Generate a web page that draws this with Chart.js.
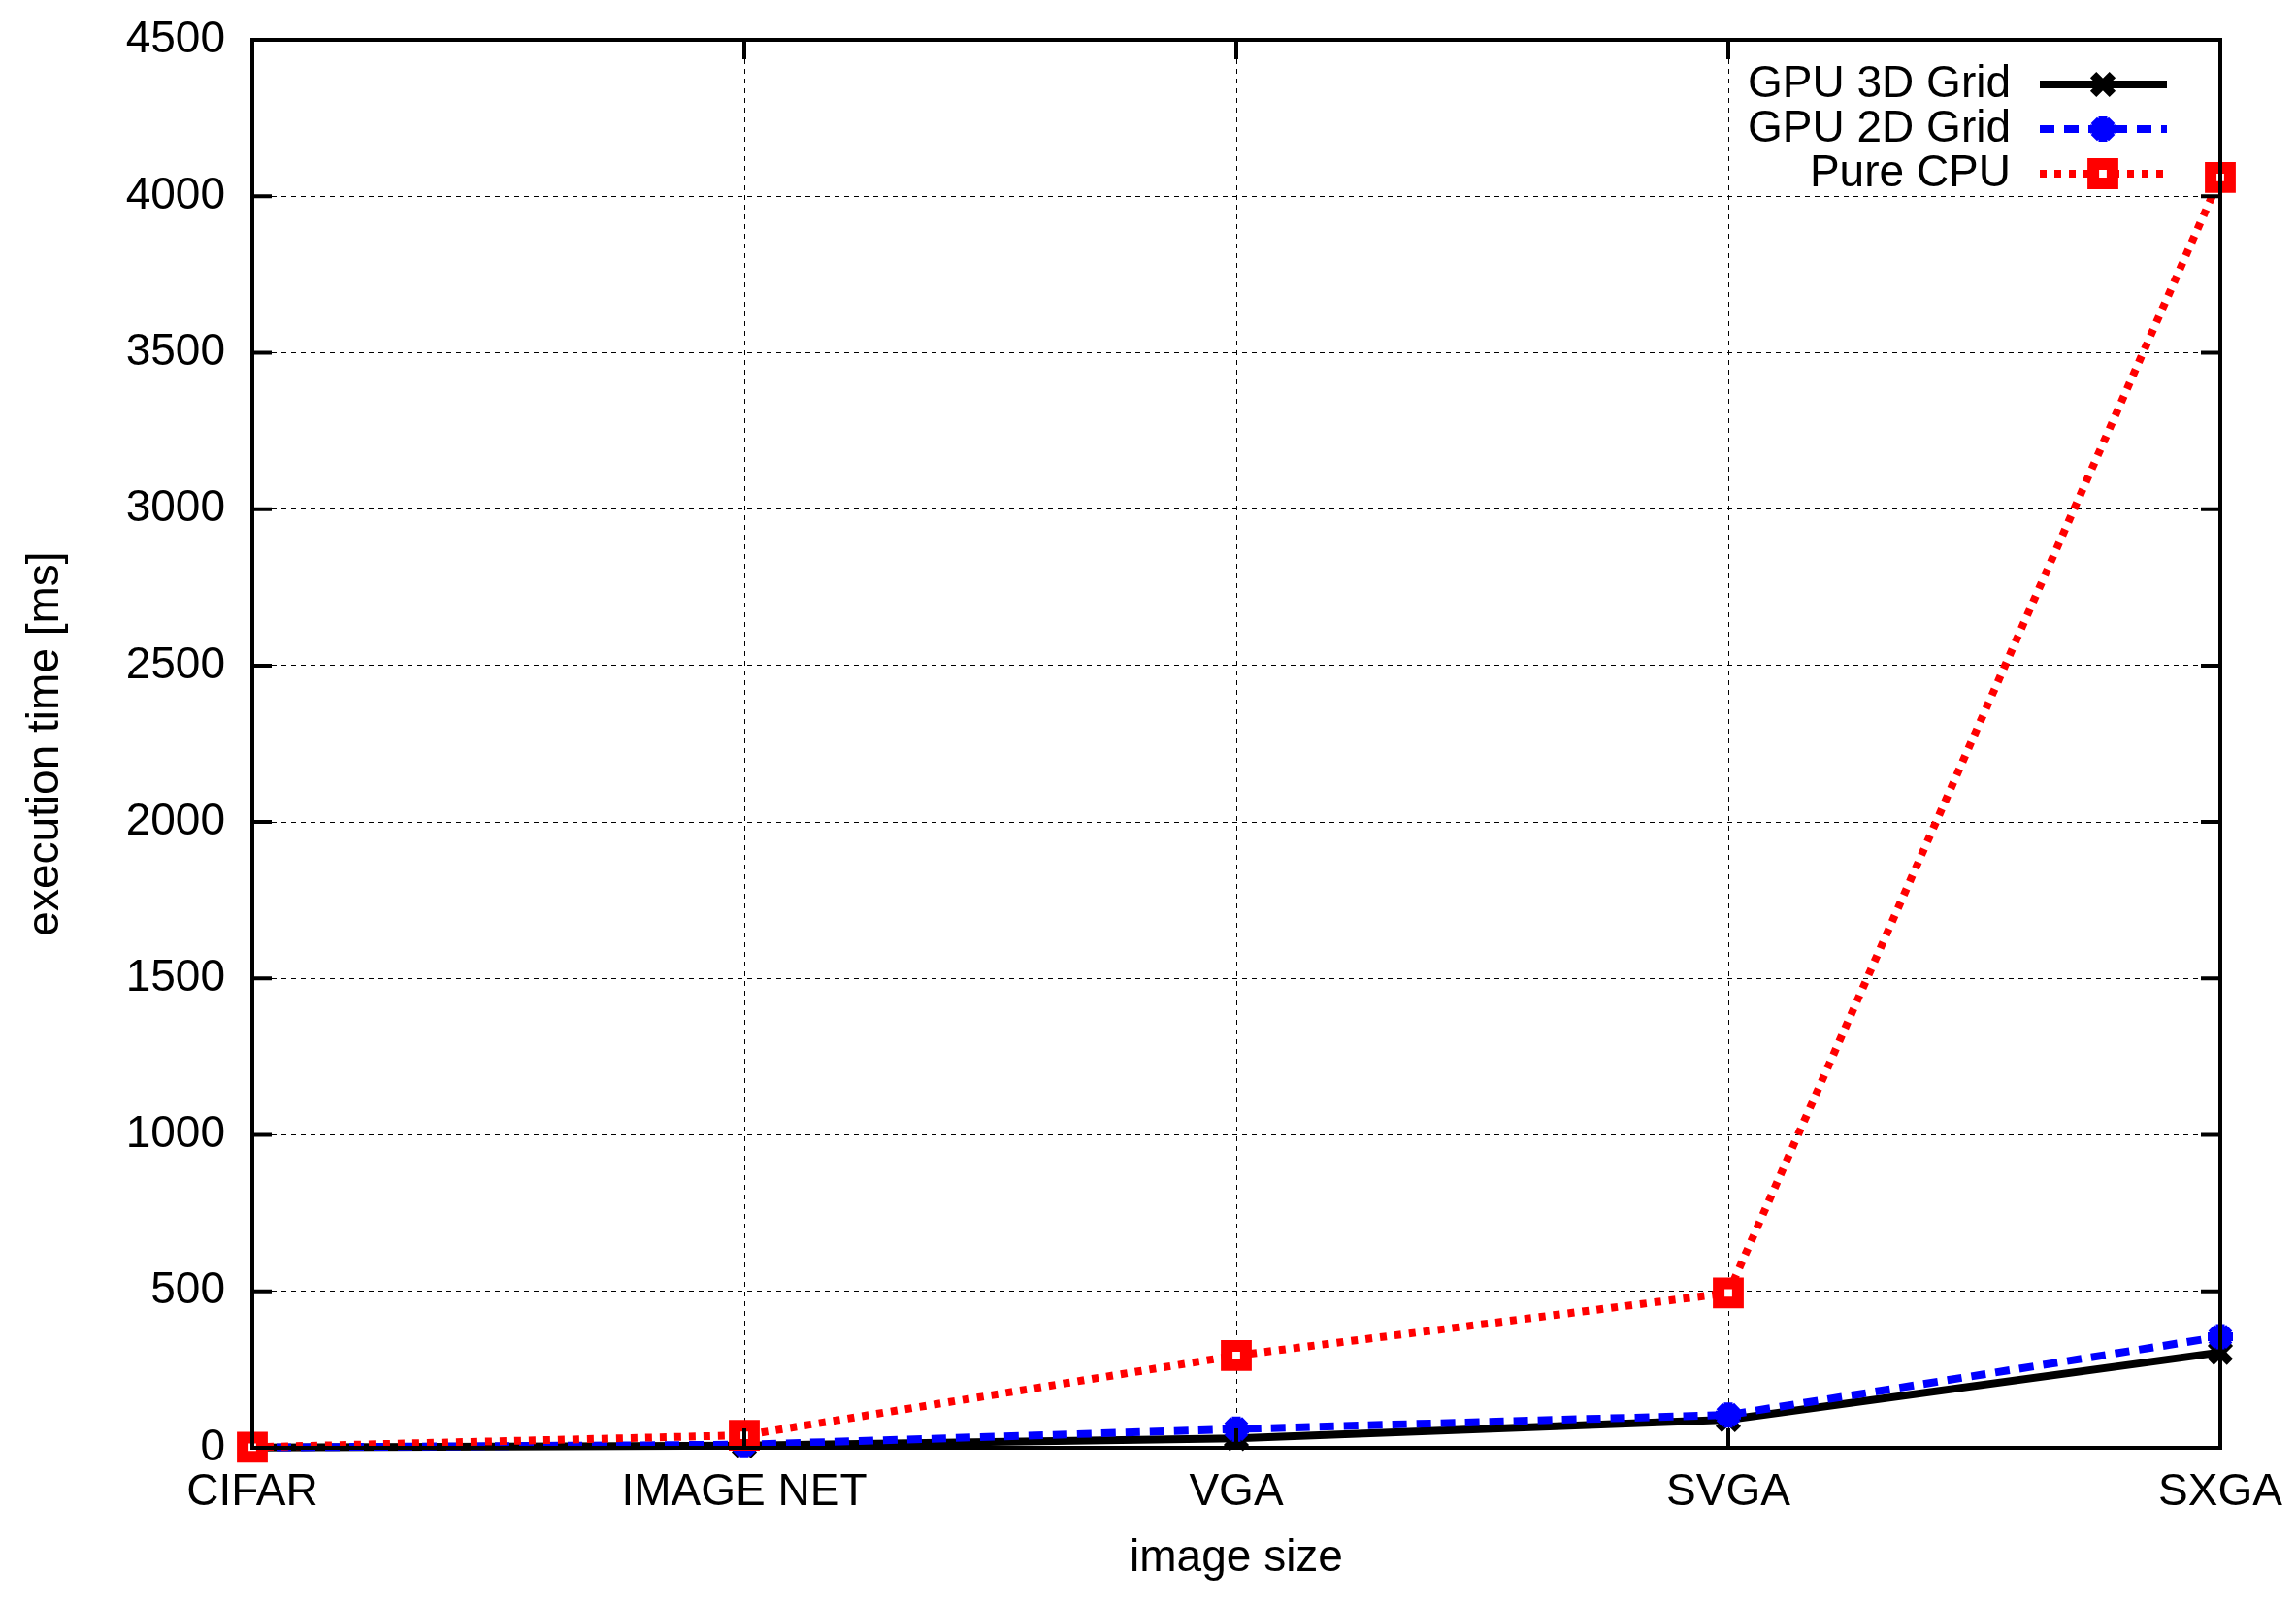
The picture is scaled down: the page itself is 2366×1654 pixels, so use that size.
<!DOCTYPE html>
<html>
<head>
<meta charset="utf-8">
<title>execution time vs image size</title>
<script src="https://cdn.jsdelivr.net/npm/chart.js@4/dist/chart.umd.min.js"></script>
<style>
  html, body { margin: 0; padding: 0; background: #fff; }
  #wrap { width: 2366px; height: 1654px; }
</style>
</head>
<body>
<div id="wrap"><canvas id="timeChart" width="2366" height="1654"></canvas></div>
<script>
// ===== DATA =====
const categories = ["CIFAR", "IMAGE NET", "VGA", "SVGA", "SXGA"];
const gpu3dGrid = [1, 7, 30, 90, 305];
const gpu2dGrid = [1, 10, 60, 105, 355];
const pureCpu = [2, 40, 295, 495, 4060];
const yTicks = [0, 500, 1000, 1500, 2000, 2500, 3000, 3500, 4000, 4500];

const FONT = "'Liberation Sans', Arial, Helvetica, sans-serif";

// gnuplot-like frame with inward ticks on all four sides
const framePlugin = {
  id: "frame",
  afterDatasetsDraw(chart) {
    const { ctx, chartArea: a, scales } = chart;
    ctx.save();
    ctx.strokeStyle = "#000";
    ctx.lineWidth = 4;
    ctx.setLineDash([]);
    ctx.strokeRect(a.left, a.top, a.right - a.left, a.bottom - a.top);
    const tl = 20;
    ctx.beginPath();
    yTicks.forEach((v) => {
      const y = scales.y.getPixelForValue(v);
      ctx.moveTo(a.left, y); ctx.lineTo(a.left + tl, y);
      ctx.moveTo(a.right, y); ctx.lineTo(a.right - tl, y);
    });
    categories.forEach((c, i) => {
      const x = scales.x.getPixelForValue(i);
      ctx.moveTo(x, a.bottom); ctx.lineTo(x, a.bottom - tl);
      ctx.moveTo(x, a.top); ctx.lineTo(x, a.top + tl);
    });
    ctx.stroke();
    ctx.restore();
  },
};

// legend: label right-aligned, line sample with marker on the right
const keyPlugin = {
  id: "key",
  afterDraw(chart) {
    const ctx = chart.ctx;
    ctx.save();
    chart.data.datasets.forEach((ds, i) => {
      const y = 87 + 46 * i;
      ctx.fillStyle = "#000";
      ctx.font = "46px " + FONT;
      ctx.textAlign = "right";
      ctx.textBaseline = "middle";
      ctx.fillText(ds.label, 2072, y);

      ctx.strokeStyle = ds.borderColor;
      ctx.lineWidth = ds.borderWidth;
      ctx.lineCap = "butt";
      ctx.setLineDash(ds.borderDash || []);
      ctx.beginPath();
      ctx.moveTo(2102, y);
      ctx.lineTo(2233, y);
      ctx.stroke();
      ctx.setLineDash([]);

      ctx.fillStyle = ds.pointBackgroundColor;
      ctx.strokeStyle = ds.pointBorderColor;
      ctx.lineWidth = ds.pointBorderWidth;
      Chart.helpers.drawPoint(ctx, {
        pointStyle: ds.pointStyle,
        radius: ds.pointRadius,
        borderWidth: ds.pointBorderWidth,
      }, 2167, y);
    });
    ctx.restore();
  },
};

function initChart() {
  const ctx = document.getElementById("timeChart").getContext("2d");
  new Chart(ctx, {
    type: "line",
    data: {
      labels: categories,
      datasets: [
        {
          label: "GPU 3D Grid",
          data: gpu3dGrid,
          borderColor: "#000000",
          backgroundColor: "#000000",
          borderWidth: 8,
          pointStyle: "crossRot",
          pointRadius: 14,
          pointBorderWidth: 9,
          pointBorderColor: "#000000",
          pointBackgroundColor: "#000000",
          tension: 0,
          clip: false,
          order: 2,
        },
        {
          label: "GPU 2D Grid",
          data: gpu2dGrid,
          borderColor: "#0000ff",
          backgroundColor: "#0000ff",
          borderWidth: 8,
          borderDash: [15, 10],
          pointStyle: "star",
          pointRadius: 13,
          pointBorderWidth: 9,
          pointBorderColor: "#0000ff",
          pointBackgroundColor: "#0000ff",
          tension: 0,
          clip: false,
          order: 1,
        },
        {
          label: "Pure CPU",
          data: pureCpu,
          borderColor: "#ff0000",
          backgroundColor: "#ffffff",
          borderWidth: 8,
          borderDash: [7, 8],
          pointStyle: "rect",
          pointRadius: 14,
          pointBorderWidth: 12,
          pointBorderColor: "#ff0000",
          pointBackgroundColor: "#ffffff",
          tension: 0,
          clip: false,
          order: 0,
        },
      ],
    },
    options: {
      responsive: false,
      animation: false,
      devicePixelRatio: 1,
      layout: { padding: { top: 41, right: 78, left: 0, bottom: 0 } },
      plugins: {
        legend: { display: false },
        tooltip: { enabled: false },
      },
      scales: {
        x: {
          offset: false,
          grid: { color: "#000", lineWidth: 1, drawTicks: false },
          border: { display: false, dash: [5, 5] },
          ticks: {
            color: "#000",
            font: { family: FONT, size: 46 },
            padding: 19,
            maxRotation: 0,
            autoSkip: false,
          },
          title: {
            display: true,
            text: "image size",
            color: "#000",
            font: { family: FONT, size: 46 },
            padding: { top: 0, bottom: 20 },
          },
          afterFit(scale) {
            scale.height = 162;
            scale.paddingLeft = 0;
            scale.paddingRight = 0;
          },
        },
        y: {
          min: 0,
          max: 4500,
          grid: { color: "#000", lineWidth: 1, drawTicks: false },
          border: { display: false, dash: [5, 5] },
          afterBuildTicks(scale) { scale.ticks = yTicks.map((v) => ({ value: v })); },
          ticks: {
            color: "#000",
            font: { family: FONT, size: 46 },
            padding: 28,
            callback: (v) => String(v),
          },
          title: {
            display: true,
            text: "execution time [ms]",
            color: "#000",
            font: { family: FONT, size: 46 },
            padding: { top: 20, bottom: 0 },
          },
          afterFit(scale) {
            scale.width = 260;
            scale.paddingTop = 0;
            scale.paddingBottom = 0;
          },
        },
      },
    },
    plugins: [framePlugin, keyPlugin],
  });
}

document.addEventListener("DOMContentLoaded", function () {
  if (typeof Chart !== "undefined") {
    initChart();
  }
});
</script>
</body>
</html>
